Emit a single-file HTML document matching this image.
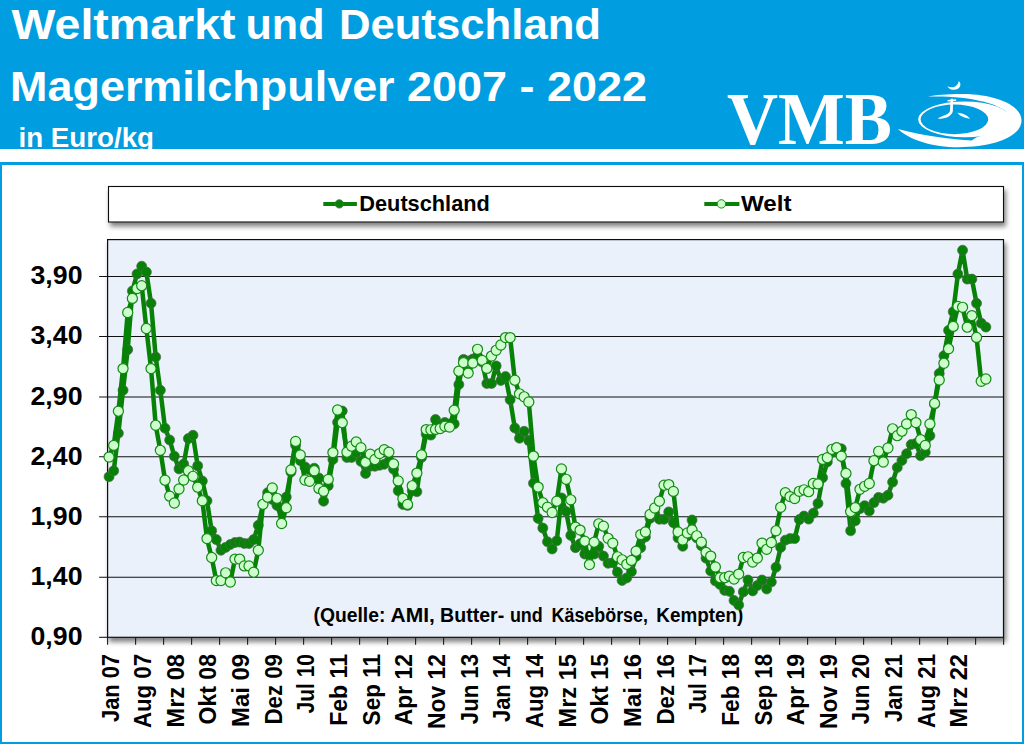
<!DOCTYPE html>
<html><head><meta charset="utf-8"><title>Magermilchpulver</title>
<style>
html,body{margin:0;padding:0;background:#fff;width:1024px;height:744px;overflow:hidden}
svg{display:block}
text{font-family:"Liberation Sans",sans-serif;font-weight:bold}
.hd text{fill:#fff}
.grid line{stroke:#111;stroke-width:1.05}
.ticks line{stroke:#1a1a1a;stroke-width:1.1}
.dl{fill:none;stroke:#078207;stroke-width:4.5;stroke-linejoin:round;stroke-linecap:round}
.wl{fill:none;stroke:#078207;stroke-width:4.5;stroke-linejoin:round;stroke-linecap:round}
.dm circle{fill:#078207;stroke:#4d6b4d;stroke-width:0.7}
.wm circle{fill:#ccffcc;stroke:#148a14;stroke-width:1.2}
.yl text{font-size:25px;fill:#000}
.xl text{font-size:23.4px;fill:#000}
</style></head><body>
<svg width="1024" height="744" viewBox="0 0 1024 744">
<defs>
<filter id="sh" x="-5%" y="-30%" width="110%" height="180%"><feGaussianBlur in="SourceAlpha" stdDeviation="2.8"/><feOffset dx="1.5" dy="4"/><feComponentTransfer><feFuncA type="linear" slope="0.5"/></feComponentTransfer><feMerge><feMergeNode/><feMergeNode in="SourceGraphic"/></feMerge></filter>
<filter id="sh2" x="-5%" y="-5%" width="110%" height="110%"><feGaussianBlur in="SourceAlpha" stdDeviation="2.6"/><feOffset dx="2" dy="3.5"/><feComponentTransfer><feFuncA type="linear" slope="0.5"/></feComponentTransfer><feMerge><feMergeNode/><feMergeNode in="SourceGraphic"/></feMerge></filter>
</defs>
<rect x="0" y="0" width="1024" height="744" fill="#fff"/>
<!-- header -->
<rect x="0" y="0" width="1024" height="149" fill="#009ee0"/>
<g class="hd">
<text x="11.5" y="39" font-size="43" textLength="224" lengthAdjust="spacingAndGlyphs">Weltmarkt</text><text x="245.5" y="39" font-size="43" textLength="79" lengthAdjust="spacingAndGlyphs">und</text><text x="339" y="39" font-size="43" textLength="262" lengthAdjust="spacingAndGlyphs">Deutschland</text>
<text x="10" y="100.8" font-size="43" textLength="637" lengthAdjust="spacingAndGlyphs">Magermilchpulver 2007 - 2022</text>
<text x="18.5" y="146.7" font-size="28.5" textLength="135.5" lengthAdjust="spacingAndGlyphs">in Euro/kg</text>
<text x="727" y="143.7" font-size="73" style="font-family:'Liberation Serif',serif" textLength="165" lengthAdjust="spacingAndGlyphs">VMB</text>
</g>
<rect x="0" y="149" width="1024" height="13" fill="#fff"/>
<!-- logo swirl -->
<g transform="translate(890,72) scale(0.1309)" fill="#fff">
<path d="M60,435 C150,520 330,575 520,575 C800,575 1005,490 1005,370 C1005,260 820,170 560,168 C450,167 350,175 290,188 C420,182 600,195 720,228 C800,250 860,280 890,305 L880,380 C850,430 780,470 700,487 C670,494 645,506 625,523 C470,515 270,490 60,435 Z"/>
<path fill-rule="evenodd" d="M215,362 A355,137 0 1 1 925,362 A355,137 0 1 1 215,362 Z M234,362 A258,113 0 1 0 750,362 A258,113 0 1 0 234,362 Z"/>
<path d="M438,108 C470,125 520,115 525,68 C555,95 530,140 480,135 C460,133 445,122 438,108 Z"/>
<path d="M464,205 L482,205 L480,300 C470,340 420,362 365,355 C395,335 445,330 458,300 Z"/>
<path d="M440,213 L505,209 L505,221 L440,225 Z"/>
<path d="M515,312 C550,315 590,330 612,358 C580,352 540,345 515,312 Z"/>
</g>
<!-- frame -->
<rect x="0.5" y="163.5" width="1023" height="580" fill="#fff" stroke="#009ee0" stroke-width="3"/>
<!-- legend -->
<rect x="108.5" y="186.5" width="895" height="35.5" fill="#fff" stroke="#111" stroke-width="1.1" filter="url(#sh)"/>
<line x1="323.3" y1="203.9" x2="356.9" y2="203.9" stroke="#078207" stroke-width="4"/>
<circle cx="339.3" cy="203.9" r="4.2" fill="#078207" stroke="#4d6b4d" stroke-width="0.8"/>
<text x="359.3" y="211.4" font-size="22" textLength="130.5" lengthAdjust="spacingAndGlyphs">Deutschland</text>
<line x1="704.3" y1="203.9" x2="739.4" y2="203.9" stroke="#078207" stroke-width="4"/>
<circle cx="721.4" cy="203.9" r="4.2" fill="#ccffcc" stroke="#1a8a1a" stroke-width="1"/>
<text x="741" y="211.4" font-size="22" textLength="50.5" lengthAdjust="spacingAndGlyphs">Welt</text>
<!-- plot -->
<rect x="107.6" y="239.6" width="895.9" height="397.69999999999993" fill="#eaf1fa" stroke="#111" stroke-width="1.2" filter="url(#sh2)"/>
<g class="grid"><line x1="99.1" y1="276.4" x2="1003.5" y2="276.4"/><line x1="99.1" y1="336.5" x2="1003.5" y2="336.5"/><line x1="99.1" y1="396.9" x2="1003.5" y2="396.9"/><line x1="99.1" y1="456.8" x2="1003.5" y2="456.8"/><line x1="99.1" y1="516.8" x2="1003.5" y2="516.8"/><line x1="99.1" y1="577.2" x2="1003.5" y2="577.2"/><line x1="99.1" y1="637.3" x2="107.6" y2="637.3"/></g>
<g class="ticks"><line x1="107.6" y1="637.3" x2="107.6" y2="644.8"/><line x1="135.6" y1="637.3" x2="135.6" y2="644.8"/><line x1="163.6" y1="637.3" x2="163.6" y2="644.8"/><line x1="191.6" y1="637.3" x2="191.6" y2="644.8"/><line x1="219.6" y1="637.3" x2="219.6" y2="644.8"/><line x1="247.6" y1="637.3" x2="247.6" y2="644.8"/><line x1="275.6" y1="637.3" x2="275.6" y2="644.8"/><line x1="303.6" y1="637.3" x2="303.6" y2="644.8"/><line x1="331.6" y1="637.3" x2="331.6" y2="644.8"/><line x1="359.6" y1="637.3" x2="359.6" y2="644.8"/><line x1="387.6" y1="637.3" x2="387.6" y2="644.8"/><line x1="415.6" y1="637.3" x2="415.6" y2="644.8"/><line x1="443.6" y1="637.3" x2="443.6" y2="644.8"/><line x1="471.6" y1="637.3" x2="471.6" y2="644.8"/><line x1="499.6" y1="637.3" x2="499.6" y2="644.8"/><line x1="527.6" y1="637.3" x2="527.6" y2="644.8"/><line x1="555.6" y1="637.3" x2="555.6" y2="644.8"/><line x1="583.6" y1="637.3" x2="583.6" y2="644.8"/><line x1="611.6" y1="637.3" x2="611.6" y2="644.8"/><line x1="639.6" y1="637.3" x2="639.6" y2="644.8"/><line x1="667.6" y1="637.3" x2="667.6" y2="644.8"/><line x1="695.6" y1="637.3" x2="695.6" y2="644.8"/><line x1="723.6" y1="637.3" x2="723.6" y2="644.8"/><line x1="751.6" y1="637.3" x2="751.6" y2="644.8"/><line x1="779.6" y1="637.3" x2="779.6" y2="644.8"/><line x1="807.6" y1="637.3" x2="807.6" y2="644.8"/><line x1="835.6" y1="637.3" x2="835.6" y2="644.8"/><line x1="863.6" y1="637.3" x2="863.6" y2="644.8"/><line x1="891.6" y1="637.3" x2="891.6" y2="644.8"/><line x1="919.6" y1="637.3" x2="919.6" y2="644.8"/><line x1="947.6" y1="637.3" x2="947.6" y2="644.8"/><line x1="975.6" y1="637.3" x2="975.6" y2="644.8"/><line x1="1003.6" y1="637.3" x2="1003.6" y2="644.8"/></g>
<g class="yl"><text x="82.5" y="284.1" text-anchor="end" textLength="52" lengthAdjust="spacingAndGlyphs">3,90</text><text x="82.5" y="344.2" text-anchor="end" textLength="52" lengthAdjust="spacingAndGlyphs">3,40</text><text x="82.5" y="404.6" text-anchor="end" textLength="52" lengthAdjust="spacingAndGlyphs">2,90</text><text x="82.5" y="464.5" text-anchor="end" textLength="52" lengthAdjust="spacingAndGlyphs">2,40</text><text x="82.5" y="524.5" text-anchor="end" textLength="52" lengthAdjust="spacingAndGlyphs">1,90</text><text x="82.5" y="584.9" text-anchor="end" textLength="52" lengthAdjust="spacingAndGlyphs">1,40</text><text x="82.5" y="645" text-anchor="end" textLength="52" lengthAdjust="spacingAndGlyphs">0,90</text></g>
<g class="xl"><text transform="translate(118.55,654) rotate(-90)" text-anchor="end" textLength="68" lengthAdjust="spacingAndGlyphs">Jan 07</text><text transform="translate(151.198,654) rotate(-90)" text-anchor="end" textLength="74" lengthAdjust="spacingAndGlyphs">Aug 07</text><text transform="translate(183.846,654) rotate(-90)" text-anchor="end" textLength="73.5" lengthAdjust="spacingAndGlyphs">Mrz 08</text><text transform="translate(216.494,654) rotate(-90)" text-anchor="end" textLength="70.5" lengthAdjust="spacingAndGlyphs">Okt 08</text><text transform="translate(249.142,654) rotate(-90)" text-anchor="end" textLength="73" lengthAdjust="spacingAndGlyphs">Mai 09</text><text transform="translate(281.79,654) rotate(-90)" text-anchor="end" textLength="70.5" lengthAdjust="spacingAndGlyphs">Dez 09</text><text transform="translate(314.438,654) rotate(-90)" text-anchor="end" textLength="59.5" lengthAdjust="spacingAndGlyphs">Jul 10</text><text transform="translate(347.086,654) rotate(-90)" text-anchor="end" textLength="71.8" lengthAdjust="spacingAndGlyphs">Feb 11</text><text transform="translate(379.734,654) rotate(-90)" text-anchor="end" textLength="71.4" lengthAdjust="spacingAndGlyphs">Sep 11</text><text transform="translate(412.382,654) rotate(-90)" text-anchor="end" textLength="71.3" lengthAdjust="spacingAndGlyphs">Apr 12</text><text transform="translate(445.03,654) rotate(-90)" text-anchor="end" textLength="75" lengthAdjust="spacingAndGlyphs">Nov 12</text><text transform="translate(477.678,654) rotate(-90)" text-anchor="end" textLength="70.2" lengthAdjust="spacingAndGlyphs">Jun 13</text><text transform="translate(510.326,654) rotate(-90)" text-anchor="end" textLength="68" lengthAdjust="spacingAndGlyphs">Jan 14</text><text transform="translate(542.974,654) rotate(-90)" text-anchor="end" textLength="74" lengthAdjust="spacingAndGlyphs">Aug 14</text><text transform="translate(575.622,654) rotate(-90)" text-anchor="end" textLength="73.5" lengthAdjust="spacingAndGlyphs">Mrz 15</text><text transform="translate(608.27,654) rotate(-90)" text-anchor="end" textLength="70.5" lengthAdjust="spacingAndGlyphs">Okt 15</text><text transform="translate(640.918,654) rotate(-90)" text-anchor="end" textLength="73" lengthAdjust="spacingAndGlyphs">Mai 16</text><text transform="translate(673.566,654) rotate(-90)" text-anchor="end" textLength="70.5" lengthAdjust="spacingAndGlyphs">Dez 16</text><text transform="translate(706.214,654) rotate(-90)" text-anchor="end" textLength="59.5" lengthAdjust="spacingAndGlyphs">Jul 17</text><text transform="translate(738.862,654) rotate(-90)" text-anchor="end" textLength="71.8" lengthAdjust="spacingAndGlyphs">Feb 18</text><text transform="translate(771.51,654) rotate(-90)" text-anchor="end" textLength="71.4" lengthAdjust="spacingAndGlyphs">Sep 18</text><text transform="translate(804.158,654) rotate(-90)" text-anchor="end" textLength="71.3" lengthAdjust="spacingAndGlyphs">Apr 19</text><text transform="translate(836.806,654) rotate(-90)" text-anchor="end" textLength="75" lengthAdjust="spacingAndGlyphs">Nov 19</text><text transform="translate(869.454,654) rotate(-90)" text-anchor="end" textLength="70.2" lengthAdjust="spacingAndGlyphs">Jun 20</text><text transform="translate(902.102,654) rotate(-90)" text-anchor="end" textLength="68" lengthAdjust="spacingAndGlyphs">Jan 21</text><text transform="translate(934.75,654) rotate(-90)" text-anchor="end" textLength="74" lengthAdjust="spacingAndGlyphs">Aug 21</text><text transform="translate(967.398,654) rotate(-90)" text-anchor="end" textLength="73.5" lengthAdjust="spacingAndGlyphs">Mrz 22</text></g>
<text x="313.50" y="621.8" font-size="19.5" textLength="71.90" lengthAdjust="spacingAndGlyphs">(Quelle:</text><text x="390.50" y="621.8" font-size="19.5" textLength="44.30" lengthAdjust="spacingAndGlyphs">AMI,</text><text x="440.10" y="621.8" font-size="19.5" textLength="64.10" lengthAdjust="spacingAndGlyphs">Butter-</text><text x="509.90" y="621.8" font-size="19.5" textLength="32.90" lengthAdjust="spacingAndGlyphs">und</text><text x="551.50" y="621.8" font-size="19.5" textLength="96.50" lengthAdjust="spacingAndGlyphs">Käsebörse,</text><text x="656.30" y="621.8" font-size="19.5" textLength="86.90" lengthAdjust="spacingAndGlyphs">Kempten)</text>
<polyline class="dl" points="109.05,476.7 113.71,470.8 118.38,433.3 123.04,390.2 127.71,349.6 132.37,291 137.03,274 141.7,266.2 146.36,272.1 151.03,303.3 155.69,357 160.35,390.2 165.02,428.2 169.68,440 174.35,456.2 179.01,468.9 183.67,464 188.34,438.6 193,435.3 197.67,465.9 202.33,481 206.99,500.8 211.66,530.8 216.32,539.6 220.99,550.3 225.65,547.4 230.31,544.5 234.98,542.5 239.64,542.1 244.31,543.5 248.97,543.5 253.63,539.6 258.3,525.3 262.96,504.4 267.63,492.7 272.29,499.5 276.95,505.4 281.62,509.3 286.28,497.1 290.95,472 295.61,445.2 300.27,460.6 304.94,466.9 309.6,470 314.27,468.2 318.93,478 323.59,501.2 328.26,485.8 332.92,459.5 337.59,422.3 342.25,411 346.91,457.5 351.58,457.5 356.24,452.6 360.91,461.4 365.57,473.5 370.23,466.3 374.9,466.3 379.56,465.3 384.23,464.3 388.89,461.4 393.55,469.2 398.22,490.7 402.88,504.4 407.55,505.4 412.21,490.7 416.87,491.7 421.54,457.5 426.2,434.1 430.87,435.1 435.53,419.5 440.19,424.9 444.86,422.5 449.52,423.9 454.19,423.9 458.85,384.5 463.51,359.4 468.18,361 472.84,359.1 477.51,356.1 482.17,362 486.83,383.5 491.5,383.5 496.16,365.9 500.83,380.5 505.49,376.6 510.15,399.7 514.82,428 519.48,438.2 524.15,431.3 528.81,440.7 533.47,483.2 538.14,518.4 542.8,528.1 547.47,541.8 552.13,549 556.79,540.8 561.46,497.9 566.12,511.5 570.79,535.4 575.45,547.7 580.11,543.8 584.78,554.1 589.44,555.5 594.11,554.1 598.77,546.3 603.43,556.1 608.1,563.3 612.76,562.7 617.43,572.1 622.09,580.5 626.75,577.9 631.42,571.7 636.08,556.4 640.75,547.7 645.41,536.9 650.07,518.4 654.74,513.5 659.4,519.3 664.07,519.3 668.73,511.9 673.39,522.7 678.06,537.9 682.72,546.3 687.39,535.9 692.05,520 696.71,537.9 701.38,545.7 706.04,558.2 710.71,571 715.37,580.9 720.03,584.5 724.7,590.4 729.36,591.3 734.03,600.5 738.69,605 743.35,591.9 748.02,580 752.68,590.9 757.35,585.5 762.01,580 766.67,589 771.34,582 776,567.3 780.67,547.4 785.33,540.2 789.99,538.6 794.66,538.6 799.32,519.6 803.99,516.1 808.65,519.1 813.31,513.2 817.98,503.4 822.64,477.7 827.31,462 831.97,452.3 836.63,447.4 841.3,448.8 845.96,483.5 850.63,530.8 855.29,520.8 859.95,508.6 864.62,505.7 869.28,511 873.95,502.6 878.61,497.4 883.27,498.2 887.94,495.2 892.6,482.1 897.27,467.5 901.93,460.5 906.59,453.8 911.26,444.5 915.92,443.5 920.59,455.8 925.25,452.3 929.91,435.7 934.58,404 939.24,373.5 943.91,355.8 948.57,330.4 953.23,311.8 957.9,274.1 962.56,250.2 967.23,279.1 971.89,279.1 976.55,303.3 981.22,323.2 985.88,327.1"/><g class="dm"><circle cx="109.05" cy="476.7" r="5"/><circle cx="113.71" cy="470.8" r="5"/><circle cx="118.38" cy="433.3" r="5"/><circle cx="123.04" cy="390.2" r="5"/><circle cx="127.71" cy="349.6" r="5"/><circle cx="132.37" cy="291" r="5"/><circle cx="137.03" cy="274" r="5"/><circle cx="141.7" cy="266.2" r="5"/><circle cx="146.36" cy="272.1" r="5"/><circle cx="151.03" cy="303.3" r="5"/><circle cx="155.69" cy="357" r="5"/><circle cx="160.35" cy="390.2" r="5"/><circle cx="165.02" cy="428.2" r="5"/><circle cx="169.68" cy="440" r="5"/><circle cx="174.35" cy="456.2" r="5"/><circle cx="179.01" cy="468.9" r="5"/><circle cx="183.67" cy="464" r="5"/><circle cx="188.34" cy="438.6" r="5"/><circle cx="193" cy="435.3" r="5"/><circle cx="197.67" cy="465.9" r="5"/><circle cx="202.33" cy="481" r="5"/><circle cx="206.99" cy="500.8" r="5"/><circle cx="211.66" cy="530.8" r="5"/><circle cx="216.32" cy="539.6" r="5"/><circle cx="220.99" cy="550.3" r="5"/><circle cx="225.65" cy="547.4" r="5"/><circle cx="230.31" cy="544.5" r="5"/><circle cx="234.98" cy="542.5" r="5"/><circle cx="239.64" cy="542.1" r="5"/><circle cx="244.31" cy="543.5" r="5"/><circle cx="248.97" cy="543.5" r="5"/><circle cx="253.63" cy="539.6" r="5"/><circle cx="258.3" cy="525.3" r="5"/><circle cx="262.96" cy="504.4" r="5"/><circle cx="267.63" cy="492.7" r="5"/><circle cx="272.29" cy="499.5" r="5"/><circle cx="276.95" cy="505.4" r="5"/><circle cx="281.62" cy="509.3" r="5"/><circle cx="286.28" cy="497.1" r="5"/><circle cx="290.95" cy="472" r="5"/><circle cx="295.61" cy="445.2" r="5"/><circle cx="300.27" cy="460.6" r="5"/><circle cx="304.94" cy="466.9" r="5"/><circle cx="309.6" cy="470" r="5"/><circle cx="314.27" cy="468.2" r="5"/><circle cx="318.93" cy="478" r="5"/><circle cx="323.59" cy="501.2" r="5"/><circle cx="328.26" cy="485.8" r="5"/><circle cx="332.92" cy="459.5" r="5"/><circle cx="337.59" cy="422.3" r="5"/><circle cx="342.25" cy="411" r="5"/><circle cx="346.91" cy="457.5" r="5"/><circle cx="351.58" cy="457.5" r="5"/><circle cx="356.24" cy="452.6" r="5"/><circle cx="360.91" cy="461.4" r="5"/><circle cx="365.57" cy="473.5" r="5"/><circle cx="370.23" cy="466.3" r="5"/><circle cx="374.9" cy="466.3" r="5"/><circle cx="379.56" cy="465.3" r="5"/><circle cx="384.23" cy="464.3" r="5"/><circle cx="388.89" cy="461.4" r="5"/><circle cx="393.55" cy="469.2" r="5"/><circle cx="398.22" cy="490.7" r="5"/><circle cx="402.88" cy="504.4" r="5"/><circle cx="407.55" cy="505.4" r="5"/><circle cx="412.21" cy="490.7" r="5"/><circle cx="416.87" cy="491.7" r="5"/><circle cx="421.54" cy="457.5" r="5"/><circle cx="426.2" cy="434.1" r="5"/><circle cx="430.87" cy="435.1" r="5"/><circle cx="435.53" cy="419.5" r="5"/><circle cx="440.19" cy="424.9" r="5"/><circle cx="444.86" cy="422.5" r="5"/><circle cx="449.52" cy="423.9" r="5"/><circle cx="454.19" cy="423.9" r="5"/><circle cx="458.85" cy="384.5" r="5"/><circle cx="463.51" cy="359.4" r="5"/><circle cx="468.18" cy="361" r="5"/><circle cx="472.84" cy="359.1" r="5"/><circle cx="477.51" cy="356.1" r="5"/><circle cx="482.17" cy="362" r="5"/><circle cx="486.83" cy="383.5" r="5"/><circle cx="491.5" cy="383.5" r="5"/><circle cx="496.16" cy="365.9" r="5"/><circle cx="500.83" cy="380.5" r="5"/><circle cx="505.49" cy="376.6" r="5"/><circle cx="510.15" cy="399.7" r="5"/><circle cx="514.82" cy="428" r="5"/><circle cx="519.48" cy="438.2" r="5"/><circle cx="524.15" cy="431.3" r="5"/><circle cx="528.81" cy="440.7" r="5"/><circle cx="533.47" cy="483.2" r="5"/><circle cx="538.14" cy="518.4" r="5"/><circle cx="542.8" cy="528.1" r="5"/><circle cx="547.47" cy="541.8" r="5"/><circle cx="552.13" cy="549" r="5"/><circle cx="556.79" cy="540.8" r="5"/><circle cx="561.46" cy="497.9" r="5"/><circle cx="566.12" cy="511.5" r="5"/><circle cx="570.79" cy="535.4" r="5"/><circle cx="575.45" cy="547.7" r="5"/><circle cx="580.11" cy="543.8" r="5"/><circle cx="584.78" cy="554.1" r="5"/><circle cx="589.44" cy="555.5" r="5"/><circle cx="594.11" cy="554.1" r="5"/><circle cx="598.77" cy="546.3" r="5"/><circle cx="603.43" cy="556.1" r="5"/><circle cx="608.1" cy="563.3" r="5"/><circle cx="612.76" cy="562.7" r="5"/><circle cx="617.43" cy="572.1" r="5"/><circle cx="622.09" cy="580.5" r="5"/><circle cx="626.75" cy="577.9" r="5"/><circle cx="631.42" cy="571.7" r="5"/><circle cx="636.08" cy="556.4" r="5"/><circle cx="640.75" cy="547.7" r="5"/><circle cx="645.41" cy="536.9" r="5"/><circle cx="650.07" cy="518.4" r="5"/><circle cx="654.74" cy="513.5" r="5"/><circle cx="659.4" cy="519.3" r="5"/><circle cx="664.07" cy="519.3" r="5"/><circle cx="668.73" cy="511.9" r="5"/><circle cx="673.39" cy="522.7" r="5"/><circle cx="678.06" cy="537.9" r="5"/><circle cx="682.72" cy="546.3" r="5"/><circle cx="687.39" cy="535.9" r="5"/><circle cx="692.05" cy="520" r="5"/><circle cx="696.71" cy="537.9" r="5"/><circle cx="701.38" cy="545.7" r="5"/><circle cx="706.04" cy="558.2" r="5"/><circle cx="710.71" cy="571" r="5"/><circle cx="715.37" cy="580.9" r="5"/><circle cx="720.03" cy="584.5" r="5"/><circle cx="724.7" cy="590.4" r="5"/><circle cx="729.36" cy="591.3" r="5"/><circle cx="734.03" cy="600.5" r="5"/><circle cx="738.69" cy="605" r="5"/><circle cx="743.35" cy="591.9" r="5"/><circle cx="748.02" cy="580" r="5"/><circle cx="752.68" cy="590.9" r="5"/><circle cx="757.35" cy="585.5" r="5"/><circle cx="762.01" cy="580" r="5"/><circle cx="766.67" cy="589" r="5"/><circle cx="771.34" cy="582" r="5"/><circle cx="776" cy="567.3" r="5"/><circle cx="780.67" cy="547.4" r="5"/><circle cx="785.33" cy="540.2" r="5"/><circle cx="789.99" cy="538.6" r="5"/><circle cx="794.66" cy="538.6" r="5"/><circle cx="799.32" cy="519.6" r="5"/><circle cx="803.99" cy="516.1" r="5"/><circle cx="808.65" cy="519.1" r="5"/><circle cx="813.31" cy="513.2" r="5"/><circle cx="817.98" cy="503.4" r="5"/><circle cx="822.64" cy="477.7" r="5"/><circle cx="827.31" cy="462" r="5"/><circle cx="831.97" cy="452.3" r="5"/><circle cx="836.63" cy="447.4" r="5"/><circle cx="841.3" cy="448.8" r="5"/><circle cx="845.96" cy="483.5" r="5"/><circle cx="850.63" cy="530.8" r="5"/><circle cx="855.29" cy="520.8" r="5"/><circle cx="859.95" cy="508.6" r="5"/><circle cx="864.62" cy="505.7" r="5"/><circle cx="869.28" cy="511" r="5"/><circle cx="873.95" cy="502.6" r="5"/><circle cx="878.61" cy="497.4" r="5"/><circle cx="883.27" cy="498.2" r="5"/><circle cx="887.94" cy="495.2" r="5"/><circle cx="892.6" cy="482.1" r="5"/><circle cx="897.27" cy="467.5" r="5"/><circle cx="901.93" cy="460.5" r="5"/><circle cx="906.59" cy="453.8" r="5"/><circle cx="911.26" cy="444.5" r="5"/><circle cx="915.92" cy="443.5" r="5"/><circle cx="920.59" cy="455.8" r="5"/><circle cx="925.25" cy="452.3" r="5"/><circle cx="929.91" cy="435.7" r="5"/><circle cx="934.58" cy="404" r="5"/><circle cx="939.24" cy="373.5" r="5"/><circle cx="943.91" cy="355.8" r="5"/><circle cx="948.57" cy="330.4" r="5"/><circle cx="953.23" cy="311.8" r="5"/><circle cx="957.9" cy="274.1" r="5"/><circle cx="962.56" cy="250.2" r="5"/><circle cx="967.23" cy="279.1" r="5"/><circle cx="971.89" cy="279.1" r="5"/><circle cx="976.55" cy="303.3" r="5"/><circle cx="981.22" cy="323.2" r="5"/><circle cx="985.88" cy="327.1" r="5"/></g><polyline class="wl" points="109.05,457.1 113.71,445.4 118.38,411.2 123.04,368.6 127.71,312.5 132.37,298.4 137.03,288.5 141.7,285.7 146.36,328.5 151.03,368.6 155.69,425.3 160.35,450.3 165.02,480.2 169.68,496.2 174.35,503 179.01,489 183.67,480 188.34,470.8 193,476.3 197.67,487.2 202.33,500.8 206.99,538.6 211.66,557.5 216.32,580.6 220.99,580.6 225.65,572.8 230.31,582 234.98,559.1 239.64,559.1 244.31,565.9 248.97,565.9 253.63,572.2 258.3,550.3 262.96,504.3 267.63,497.2 272.29,488 276.95,498.3 281.62,523.5 286.28,507.8 290.95,470 295.61,441.4 300.27,455 304.94,480 309.6,481.3 314.27,470.8 318.93,488.4 323.59,491.3 328.26,479.4 332.92,452.6 337.59,410 342.25,422.7 346.91,452.2 351.58,446.2 356.24,441.9 360.91,447.7 365.57,462.4 370.23,454.2 374.9,459.5 379.56,453.6 384.23,449.7 388.89,452.2 393.55,463.9 398.22,480.9 402.88,498.5 407.55,504.4 412.21,485.8 416.87,473.1 421.54,454.9 426.2,429.6 430.87,429.8 435.53,429.4 440.19,428.5 444.86,426.3 449.52,427.1 454.19,410.2 458.85,371.2 463.51,362.6 468.18,373.1 472.84,363 477.51,349.3 482.17,360.4 486.83,368.4 491.5,356.1 496.16,350.3 500.83,345 505.49,337.6 510.15,337.6 514.82,380.2 519.48,393.8 524.15,396.8 528.81,402 533.47,456.1 538.14,487.1 542.8,502.7 547.47,507.2 552.13,512.5 556.79,501.2 561.46,468.9 566.12,479.3 570.79,499.8 575.45,527.1 580.11,530.1 584.78,541.2 589.44,564.6 594.11,542.2 598.77,523.8 603.43,526.2 608.1,538.3 612.76,543.2 617.43,556.8 622.09,559.8 626.75,564.3 631.42,560.4 636.08,551.2 640.75,534.6 645.41,532 650.07,514.5 654.74,508 659.4,501.2 664.07,485.2 668.73,484.6 673.39,491.4 678.06,532 682.72,540 687.39,533 692.05,530 696.71,535.8 701.38,542.2 706.04,552.4 710.71,556.1 715.37,567 720.03,577.7 724.7,577.7 729.36,576.1 734.03,579 738.69,574.1 743.35,557.5 748.02,556.8 752.68,562 757.35,558.1 762.01,543.1 766.67,549.3 771.34,542.5 776,530.8 780.67,507.3 785.33,492.7 789.99,496.6 794.66,498.6 799.32,491.3 803.99,489.8 808.65,491.7 813.31,483.5 817.98,483.9 822.64,459.4 827.31,457.7 831.97,449.3 836.63,447.8 841.3,456.2 845.96,473.4 850.63,511.5 855.29,507.6 859.95,489.3 864.62,486.3 869.28,483.5 873.95,460.7 878.61,451.3 883.27,462 887.94,448 892.6,428.8 897.27,435.7 901.93,431.2 906.59,423.9 911.26,414.6 915.92,422.6 920.59,439.6 925.25,445.4 929.91,423.9 934.58,403.4 939.24,380 943.91,363.3 948.57,348.8 953.23,326.4 957.9,306.4 962.56,307.3 967.23,327.2 971.89,315.6 976.55,337.4 981.22,381.3 985.88,379"/><g class="wm"><circle cx="109.05" cy="457.1" r="5.05"/><circle cx="113.71" cy="445.4" r="5.05"/><circle cx="118.38" cy="411.2" r="5.05"/><circle cx="123.04" cy="368.6" r="5.05"/><circle cx="127.71" cy="312.5" r="5.05"/><circle cx="132.37" cy="298.4" r="5.05"/><circle cx="137.03" cy="288.5" r="5.05"/><circle cx="141.7" cy="285.7" r="5.05"/><circle cx="146.36" cy="328.5" r="5.05"/><circle cx="151.03" cy="368.6" r="5.05"/><circle cx="155.69" cy="425.3" r="5.05"/><circle cx="160.35" cy="450.3" r="5.05"/><circle cx="165.02" cy="480.2" r="5.05"/><circle cx="169.68" cy="496.2" r="5.05"/><circle cx="174.35" cy="503" r="5.05"/><circle cx="179.01" cy="489" r="5.05"/><circle cx="183.67" cy="480" r="5.05"/><circle cx="188.34" cy="470.8" r="5.05"/><circle cx="193" cy="476.3" r="5.05"/><circle cx="197.67" cy="487.2" r="5.05"/><circle cx="202.33" cy="500.8" r="5.05"/><circle cx="206.99" cy="538.6" r="5.05"/><circle cx="211.66" cy="557.5" r="5.05"/><circle cx="216.32" cy="580.6" r="5.05"/><circle cx="220.99" cy="580.6" r="5.05"/><circle cx="225.65" cy="572.8" r="5.05"/><circle cx="230.31" cy="582" r="5.05"/><circle cx="234.98" cy="559.1" r="5.05"/><circle cx="239.64" cy="559.1" r="5.05"/><circle cx="244.31" cy="565.9" r="5.05"/><circle cx="248.97" cy="565.9" r="5.05"/><circle cx="253.63" cy="572.2" r="5.05"/><circle cx="258.3" cy="550.3" r="5.05"/><circle cx="262.96" cy="504.3" r="5.05"/><circle cx="267.63" cy="497.2" r="5.05"/><circle cx="272.29" cy="488" r="5.05"/><circle cx="276.95" cy="498.3" r="5.05"/><circle cx="281.62" cy="523.5" r="5.05"/><circle cx="286.28" cy="507.8" r="5.05"/><circle cx="290.95" cy="470" r="5.05"/><circle cx="295.61" cy="441.4" r="5.05"/><circle cx="300.27" cy="455" r="5.05"/><circle cx="304.94" cy="480" r="5.05"/><circle cx="309.6" cy="481.3" r="5.05"/><circle cx="314.27" cy="470.8" r="5.05"/><circle cx="318.93" cy="488.4" r="5.05"/><circle cx="323.59" cy="491.3" r="5.05"/><circle cx="328.26" cy="479.4" r="5.05"/><circle cx="332.92" cy="452.6" r="5.05"/><circle cx="337.59" cy="410" r="5.05"/><circle cx="342.25" cy="422.7" r="5.05"/><circle cx="346.91" cy="452.2" r="5.05"/><circle cx="351.58" cy="446.2" r="5.05"/><circle cx="356.24" cy="441.9" r="5.05"/><circle cx="360.91" cy="447.7" r="5.05"/><circle cx="365.57" cy="462.4" r="5.05"/><circle cx="370.23" cy="454.2" r="5.05"/><circle cx="374.9" cy="459.5" r="5.05"/><circle cx="379.56" cy="453.6" r="5.05"/><circle cx="384.23" cy="449.7" r="5.05"/><circle cx="388.89" cy="452.2" r="5.05"/><circle cx="393.55" cy="463.9" r="5.05"/><circle cx="398.22" cy="480.9" r="5.05"/><circle cx="402.88" cy="498.5" r="5.05"/><circle cx="407.55" cy="504.4" r="5.05"/><circle cx="412.21" cy="485.8" r="5.05"/><circle cx="416.87" cy="473.1" r="5.05"/><circle cx="421.54" cy="454.9" r="5.05"/><circle cx="426.2" cy="429.6" r="5.05"/><circle cx="430.87" cy="429.8" r="5.05"/><circle cx="435.53" cy="429.4" r="5.05"/><circle cx="440.19" cy="428.5" r="5.05"/><circle cx="444.86" cy="426.3" r="5.05"/><circle cx="449.52" cy="427.1" r="5.05"/><circle cx="454.19" cy="410.2" r="5.05"/><circle cx="458.85" cy="371.2" r="5.05"/><circle cx="463.51" cy="362.6" r="5.05"/><circle cx="468.18" cy="373.1" r="5.05"/><circle cx="472.84" cy="363" r="5.05"/><circle cx="477.51" cy="349.3" r="5.05"/><circle cx="482.17" cy="360.4" r="5.05"/><circle cx="486.83" cy="368.4" r="5.05"/><circle cx="491.5" cy="356.1" r="5.05"/><circle cx="496.16" cy="350.3" r="5.05"/><circle cx="500.83" cy="345" r="5.05"/><circle cx="505.49" cy="337.6" r="5.05"/><circle cx="510.15" cy="337.6" r="5.05"/><circle cx="514.82" cy="380.2" r="5.05"/><circle cx="519.48" cy="393.8" r="5.05"/><circle cx="524.15" cy="396.8" r="5.05"/><circle cx="528.81" cy="402" r="5.05"/><circle cx="533.47" cy="456.1" r="5.05"/><circle cx="538.14" cy="487.1" r="5.05"/><circle cx="542.8" cy="502.7" r="5.05"/><circle cx="547.47" cy="507.2" r="5.05"/><circle cx="552.13" cy="512.5" r="5.05"/><circle cx="556.79" cy="501.2" r="5.05"/><circle cx="561.46" cy="468.9" r="5.05"/><circle cx="566.12" cy="479.3" r="5.05"/><circle cx="570.79" cy="499.8" r="5.05"/><circle cx="575.45" cy="527.1" r="5.05"/><circle cx="580.11" cy="530.1" r="5.05"/><circle cx="584.78" cy="541.2" r="5.05"/><circle cx="589.44" cy="564.6" r="5.05"/><circle cx="594.11" cy="542.2" r="5.05"/><circle cx="598.77" cy="523.8" r="5.05"/><circle cx="603.43" cy="526.2" r="5.05"/><circle cx="608.1" cy="538.3" r="5.05"/><circle cx="612.76" cy="543.2" r="5.05"/><circle cx="617.43" cy="556.8" r="5.05"/><circle cx="622.09" cy="559.8" r="5.05"/><circle cx="626.75" cy="564.3" r="5.05"/><circle cx="631.42" cy="560.4" r="5.05"/><circle cx="636.08" cy="551.2" r="5.05"/><circle cx="640.75" cy="534.6" r="5.05"/><circle cx="645.41" cy="532" r="5.05"/><circle cx="650.07" cy="514.5" r="5.05"/><circle cx="654.74" cy="508" r="5.05"/><circle cx="659.4" cy="501.2" r="5.05"/><circle cx="664.07" cy="485.2" r="5.05"/><circle cx="668.73" cy="484.6" r="5.05"/><circle cx="673.39" cy="491.4" r="5.05"/><circle cx="678.06" cy="532" r="5.05"/><circle cx="682.72" cy="540" r="5.05"/><circle cx="687.39" cy="533" r="5.05"/><circle cx="692.05" cy="530" r="5.05"/><circle cx="696.71" cy="535.8" r="5.05"/><circle cx="701.38" cy="542.2" r="5.05"/><circle cx="706.04" cy="552.4" r="5.05"/><circle cx="710.71" cy="556.1" r="5.05"/><circle cx="715.37" cy="567" r="5.05"/><circle cx="720.03" cy="577.7" r="5.05"/><circle cx="724.7" cy="577.7" r="5.05"/><circle cx="729.36" cy="576.1" r="5.05"/><circle cx="734.03" cy="579" r="5.05"/><circle cx="738.69" cy="574.1" r="5.05"/><circle cx="743.35" cy="557.5" r="5.05"/><circle cx="748.02" cy="556.8" r="5.05"/><circle cx="752.68" cy="562" r="5.05"/><circle cx="757.35" cy="558.1" r="5.05"/><circle cx="762.01" cy="543.1" r="5.05"/><circle cx="766.67" cy="549.3" r="5.05"/><circle cx="771.34" cy="542.5" r="5.05"/><circle cx="776" cy="530.8" r="5.05"/><circle cx="780.67" cy="507.3" r="5.05"/><circle cx="785.33" cy="492.7" r="5.05"/><circle cx="789.99" cy="496.6" r="5.05"/><circle cx="794.66" cy="498.6" r="5.05"/><circle cx="799.32" cy="491.3" r="5.05"/><circle cx="803.99" cy="489.8" r="5.05"/><circle cx="808.65" cy="491.7" r="5.05"/><circle cx="813.31" cy="483.5" r="5.05"/><circle cx="817.98" cy="483.9" r="5.05"/><circle cx="822.64" cy="459.4" r="5.05"/><circle cx="827.31" cy="457.7" r="5.05"/><circle cx="831.97" cy="449.3" r="5.05"/><circle cx="836.63" cy="447.8" r="5.05"/><circle cx="841.3" cy="456.2" r="5.05"/><circle cx="845.96" cy="473.4" r="5.05"/><circle cx="850.63" cy="511.5" r="5.05"/><circle cx="855.29" cy="507.6" r="5.05"/><circle cx="859.95" cy="489.3" r="5.05"/><circle cx="864.62" cy="486.3" r="5.05"/><circle cx="869.28" cy="483.5" r="5.05"/><circle cx="873.95" cy="460.7" r="5.05"/><circle cx="878.61" cy="451.3" r="5.05"/><circle cx="883.27" cy="462" r="5.05"/><circle cx="887.94" cy="448" r="5.05"/><circle cx="892.6" cy="428.8" r="5.05"/><circle cx="897.27" cy="435.7" r="5.05"/><circle cx="901.93" cy="431.2" r="5.05"/><circle cx="906.59" cy="423.9" r="5.05"/><circle cx="911.26" cy="414.6" r="5.05"/><circle cx="915.92" cy="422.6" r="5.05"/><circle cx="920.59" cy="439.6" r="5.05"/><circle cx="925.25" cy="445.4" r="5.05"/><circle cx="929.91" cy="423.9" r="5.05"/><circle cx="934.58" cy="403.4" r="5.05"/><circle cx="939.24" cy="380" r="5.05"/><circle cx="943.91" cy="363.3" r="5.05"/><circle cx="948.57" cy="348.8" r="5.05"/><circle cx="953.23" cy="326.4" r="5.05"/><circle cx="957.9" cy="306.4" r="5.05"/><circle cx="962.56" cy="307.3" r="5.05"/><circle cx="967.23" cy="327.2" r="5.05"/><circle cx="971.89" cy="315.6" r="5.05"/><circle cx="976.55" cy="337.4" r="5.05"/><circle cx="981.22" cy="381.3" r="5.05"/><circle cx="985.88" cy="379" r="5.05"/></g>
</svg>
</body></html>
